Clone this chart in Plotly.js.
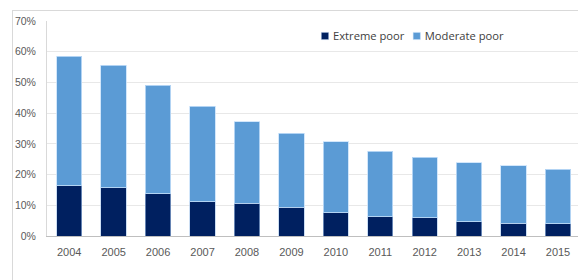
<!DOCTYPE html>
<html>
<head>
<meta charset="utf-8">
<script src="https://cdn.plot.ly/plotly-3.0.1.min.js"></script>
<style>
html,body{margin:0;padding:0;background:#fff;}
#wrap{position:relative;width:578px;height:280px;overflow:hidden;}
#frame{position:absolute;left:12px;top:10px;width:600px;height:300px;border-left:1px solid #d9d9d9;border-top:1px solid #d9d9d9;pointer-events:none;}
#chart{position:absolute;left:0;top:0;width:578px;height:280px;}
</style>
</head>
<body>
<div id="wrap">
<div id="chart"></div>
<div id="frame"></div>
</div>
<script>
const years = ['2004','2005','2006','2007','2008','2009','2010','2011','2012','2013','2014','2015'];
const extremePoor = [16.4, 15.7, 13.7, 11.2, 10.7, 9.3, 7.5, 6.2, 5.9, 4.7, 4.1, 4.0];
const totalPoor = [58.6, 55.6, 49.1, 42.3, 37.2, 33.4, 30.7, 27.6, 25.7, 23.8, 22.8, 21.7];
const moderatePoor = totalPoor.map((t, i) => +(t - extremePoor[i]).toFixed(1));
const seriesNames = ['Extreme poor', 'Moderate poor'];
const yTicks = [0, 10, 20, 30, 40, 50, 60, 70];

const fontFam = 'Liberation Sans, Arial, sans-serif';
const data = [
  {type:'bar', name:seriesNames[0], x:years, y:extremePoor,
   marker:{color:'#002060', line:{color:'rgba(170,200,235,0.6)', width:1}}},
  {type:'bar', name:seriesNames[1], x:years, y:moderatePoor,
   marker:{color:'#5b9bd5', line:{color:'rgba(200,225,250,0.8)', width:1}}}
];
const layout = {
  width:578, height:280, barmode:'stack', bargap:0.43,
  margin:{l:47, r:0, t:21, b:44},
  paper_bgcolor:'rgba(0,0,0,0)', plot_bgcolor:'#fff',
  font:{family:fontFam, size:11, color:'#595959'},
  showlegend:true,
  legend:{orientation:'h', x:0.49, xanchor:'left', y:0.932, yanchor:'middle',
          font:{family:'Open Sans, sans-serif', size:11.2, color:'#404040'}, bgcolor:'rgba(0,0,0,0)',
          traceorder:'normal'},
  xaxis:{type:'category', range:[-0.5, 11.45], showgrid:false, showline:true, linecolor:'#bfbfbf', linewidth:1,
         ticks:'', tickfont:{size:11, color:'#595959'}, ticklabelstandoff:6, mirror:false},
  yaxis:{range:[0,70], tickvals:yTicks, ticktext:yTicks.map(v=>v+'%'), showgrid:true, gridcolor:'#e8e8e8', gridwidth:1,
         showline:true, linecolor:'#d9d9d9', ticks:'', zeroline:false, tickfont:{size:10.5, color:'#595959'}, ticklabelstandoff:8},
  shapes:[]
};
Plotly.newPlot('chart', data, layout, {displayModeBar:false, staticPlot:true}).then(gd => {
  const items = gd.querySelectorAll('.legend .traces');
  let marker = 325, centerY = 36;
  items.forEach(g => {
    const txt = g.querySelector('.legendtext');
    const path = g.querySelector('.legendpoints path');
    if (path) {
      path.setAttribute('transform', 'scale(0.6)');
      const r = path.getBoundingClientRect();
      const cx = r.left + r.width/2, cy = r.top + r.height/2;
      path.setAttribute('transform', `translate(${marker - cx},${centerY - cy}) scale(0.6)`);
    }
    let tw = 70;
    if (txt) {
      const r = txt.getBoundingClientRect();
      tw = r.width;
      txt.setAttribute('transform', `translate(${marker + 8 - r.left},0)`);
    }
    marker = marker + 8 + tw + 12;
  });
});
</script>
</body>
</html>
